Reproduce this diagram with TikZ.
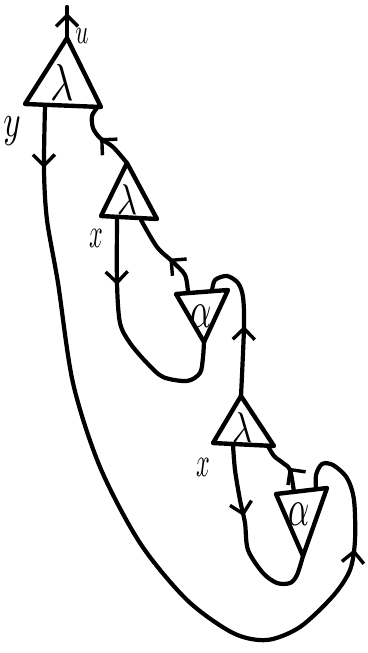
\documentclass[tikz,border=0pt]{standalone}
\usepackage{graphicx}
\usetikzlibrary{arrows.meta,decorations.markings}
\newcommand{\symscale}[3]{\scalebox{#1}[#2]{$#3$}}
\begin{document}
\begin{tikzpicture}[x=1pt,y=-1pt,
  wire/.style={line width=4.2pt,line cap=round,line join=round},
  tri/.style={line width=4.4pt,line join=round,line cap=round},
  lab/.style={inner sep=0pt},
  side/.style={inner sep=0pt},
  arr/.style={postaction={decorate},decoration={markings,mark=at position #1 with {\arrow{Straight Barb[length=11pt,width=22pt,line width=3.4pt]}}}},
  arrtwo/.style 2 args={postaction={decorate},decoration={markings,
     mark=at position #1 with {\arrow{Straight Barb[length=11pt,width=22pt,line width=3.4pt]}},
     mark=at position #2 with {\arrow{Straight Barb[length=11pt,width=22pt,line width=3.4pt]}}}}
]
\useasboundingbox (0,0) rectangle (367,653);
% triangle corners
\coordinate (t1a) at (67,38);  \coordinate (t1l) at (25,104);  \coordinate (t1r) at (101,107);
\coordinate (t2a) at (127,163); \coordinate (t2l) at (101,216); \coordinate (t2r) at (157,219);
\coordinate (a1l) at (176,294); \coordinate (a1r) at (228,290); \coordinate (a1b) at (204,342);
\coordinate (t3a) at (241,396); \coordinate (t3l) at (213,443); \coordinate (t3r) at (274,446);
\coordinate (a2l) at (276,494); \coordinate (a2r) at (327,488); \coordinate (a2b) at (303,556);
% ports
\coordinate (top) at (67,7);
\coordinate (t1o) at (45,106);
\coordinate (t1i) at (97,108);
\coordinate (t2o) at (117,219);
\coordinate (t2i) at (141,220);
\coordinate (a1t) at (188,292);
\coordinate (a1u) at (212,291);
\coordinate (t3o) at (233,445);
\coordinate (t3i) at (268,446);
\coordinate (a2t) at (294,492);
\coordinate (a2u) at (316,489);

% triangles
\draw[tri] (t1a) -- (t1l) -- (t1r) -- cycle;
\draw[tri] (t2a) -- (t2l) -- (t2r) -- cycle;
\draw[tri] (a1l) -- (a1r) -- (a1b) -- cycle;
\draw[tri] (t3a) -- (t3l) -- (t3r) -- cycle;
\draw[tri] (a2l) -- (a2r) -- (a2b) -- cycle;

% labels
\node[lab] (L1) at (62,82) {\symscale{4}{5.2}{\lambda}};
\node[lab] (L2) at (127,200) {\symscale{3.5}{4.3}{\lambda}};
\node[lab] (A1) at (201,316) {\symscale{3.3}{5.2}{\alpha}};
\node[lab] (L3) at (242,428) {\symscale{3.5}{4.3}{\lambda}};
\node[lab] (A2) at (299,514) {\symscale{3.3}{5.2}{\alpha}};
\node[side] (u) at (82,36) {\symscale{2.3}{3.5}{u}};
\node[side] (y) at (12,131) {\symscale{3.3}{4.6}{y}};
\node[side] (x1) at (96,238) {\symscale{2.4}{4.2}{x}};
\node[side] (x2) at (203,467) {\symscale{2.4}{4.2}{x}};

% wires
\draw[wire,arr=25pt] (t1a) -- (top);
\draw[wire,arrtwo={62pt}{-130pt}] plot[smooth] coordinates {(t1o) (44,170) (47,220) (58,283) (73,383) (100,467) (140,543) (187,600) (233,633) (267,640) (300,627) (333,596) (350,570) (355,540) (354,500) (347,478) (333,465) (322,464) (316,475) (a2u)};
\draw[wire,arr=37pt] plot[smooth] coordinates {(t2a) (113,147) (100,138) (93,128) (92,116) (t1i)};
\draw[wire,arr=66pt] plot[smooth] coordinates {(t2o) (117,283) (120,323) (130,343) (147,363) (163,377) (187,381) (200,373) (203,357) (a1b)};
\draw[wire,arr=40pt] plot[smooth] coordinates {(a1t) (185,275) (173,262) (157,247) (t2i)};
\draw[wire,arr=70pt] plot[smooth] coordinates {(t3a) (244,327) (243,297) (238,283) (227,276) (215,280) (a1u)};
\draw[wire,arr=72pt] plot[smooth] coordinates {(t3o) (235,470) (240,500) (245,523) (248,550) (263,573) (277,583) (290,583) (297,575) (a2b)};
\draw[wire,arr=25pt] plot[smooth] coordinates {(a2t) (290,470) (283,463) (274,456) (t3i)};
\end{tikzpicture}
\end{document}
